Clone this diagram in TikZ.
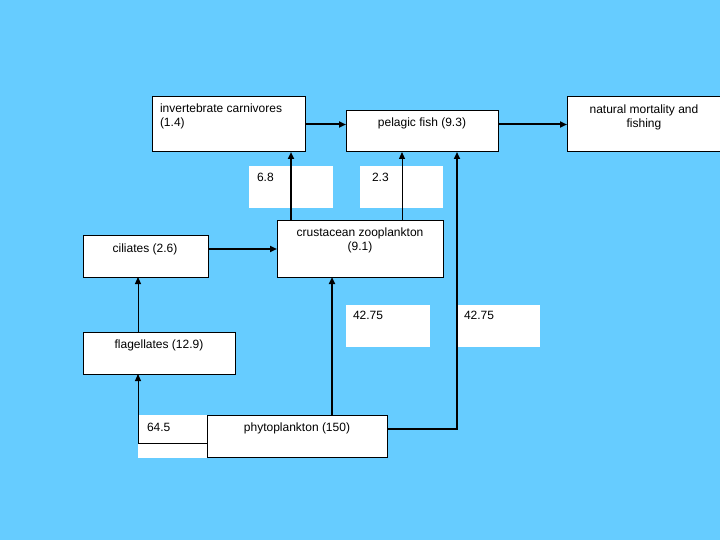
\documentclass[tikz,border=0pt]{standalone}
\usepackage{fontspec}
\setmainfont{Liberation Sans}
\usetikzlibrary{arrows.meta,calc}
\definecolor{bg}{RGB}{102,204,255}
\begin{document}
\begin{tikzpicture}[x=1pt,y=-1pt,
  box/.style={draw=black, line width=1pt, fill=white, inner sep=0pt, outer sep=0pt, anchor=north west},
  lbl/.style={fill=white, inner sep=0pt, outer sep=0pt, anchor=north west},
  txt/.style={font=\fontsize{12}{14}\selectfont, inner sep=0pt, outer sep=0pt},
  thickarr/.style={line width=2pt, -{Triangle[length=7pt,width=6pt]}},
  thinarr/.style={line width=1pt, -{Triangle[length=7pt,width=6pt]}}]
\fill[bg] (0,0) rectangle (720,540);
\useasboundingbox (0,0) rectangle (720,540);
% label backgrounds
\node[lbl, minimum width=84pt, minimum height=42pt] (l68) at (249,166) {};
\node[lbl, minimum width=83pt, minimum height=42pt] (l23) at (360,166) {};
\node[lbl, minimum width=84pt, minimum height=42pt] (l4275a) at (346,305) {};
\node[lbl, minimum width=82pt, minimum height=42pt] (l4275b) at (458,305) {};
\node[lbl, minimum width=75pt, minimum height=43pt] (l645) at (138,415) {};
% boxes
\node[box, minimum width=153pt, minimum height=55pt] (inv) at (152,97) {};
\node[box, minimum width=152pt, minimum height=41pt] (pel) at (346,111) {};
\node[box, minimum width=156pt, minimum height=55pt] (nat) at (567,97) {};
\node[box, minimum width=125pt, minimum height=42pt] (cil) at (83,235) {};
\node[box, minimum width=166pt, minimum height=56pt] (crus) at (277,221) {};
\node[box, minimum width=152pt, minimum height=42pt] (flag) at (83,332) {};
% texts in boxes
\node[txt, anchor=north west, align=left] (invt) at ($(inv.north west)+(8,7)$) {invertebrate carnivores\\(1.4)};
\node[txt, anchor=base] (pelt) at (422,127) {pelagic fish (9.3)};
\node[txt, anchor=north, align=center] (natt) at (644,105) {natural mortality and\\fishing};
\node[txt, anchor=base] (cilt) at (145,252) {ciliates (2.6)};
\node[txt, anchor=north, align=center] (crust) at (360,228) {crustacean zooplankton\\(9.1)};
\node[txt, anchor=base] (flagt) at (159,348) {flagellates (12.9)};
% label texts
\node[txt, anchor=base west] (t68) at (257,182) {6.8};
\node[txt, anchor=base west] (t23) at (372,182) {2.3};
\node[txt, anchor=base west] (t4275a) at (353,319) {42.75};
\node[txt, anchor=base west] (t4275b) at (464,319) {42.75};
\node[txt, anchor=base west] (t645) at (147,431) {64.5};
% connectors
\draw[thickarr] (inv.east) -- (inv.east -| pel.west);
\draw[thickarr] (nat.west -| pel.east) -- (nat.west);
\draw[thickarr] ([xshift=14pt]crus.north west) -- ([xshift=14pt]crus.north west |- inv.south);
\draw[thinarr] ([xshift=125pt]crus.north west) -- ([xshift=125pt]crus.north west |- pel.south);
\draw[thickarr] (cil.east |- crus.west) -- (crus.west);
\draw[thinarr] ([xshift=55pt]flag.north west) -- ([xshift=55pt]flag.north west |- cil.south);
% phytoplankton drawn last so its box covers the 64.5 label
\node[box, minimum width=180pt, minimum height=42pt] (phy) at (207,415) {};
\node[txt, anchor=base] (phyt) at (297,431) {phytoplankton (150)};
\draw[thickarr] ([xshift=55pt]crus.south west |- phy.north) -- ([xshift=55pt]crus.south west);
\draw[line width=1.6pt, -{Triangle[length=7pt,width=6pt]}] ([yshift=7pt]phy.east) -| ([xshift=111pt]pel.south west);
\draw[thinarr] ([yshift=-7pt]phy.west) -| ([xshift=55pt]flag.south west);
\end{tikzpicture}
\end{document}
